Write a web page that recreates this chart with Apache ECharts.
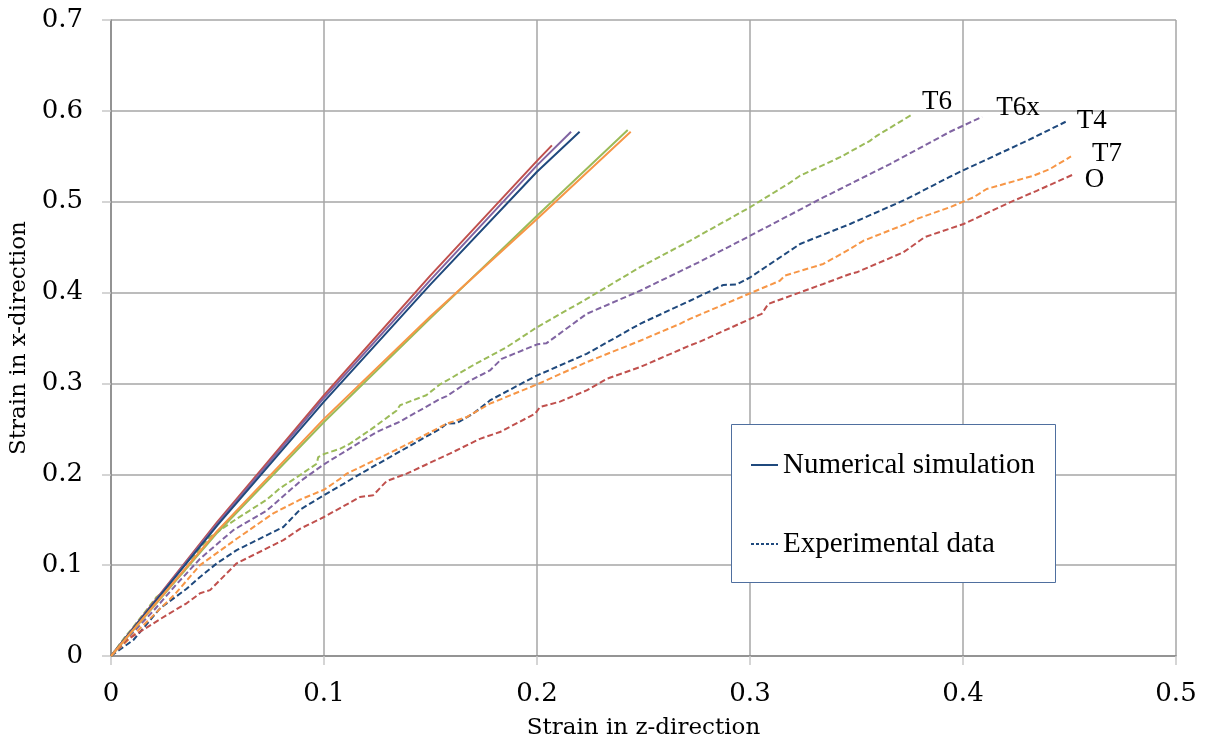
<!DOCTYPE html>
<html lang="en">
<head>
    <title>Strain x vs z</title>
    <meta charset="utf-8" />
    <script src="https://cdn.jsdelivr.net/npm/echarts@6/dist/echarts.min.js"></script>
    <style>
        body { margin: 0; background-color: #ffffff; }
        #main { width: 1210px; height: 751px; }
    </style>
    <script>
        let colorRed = '#c0504d'
        let colorPurple = '#8064a2'
        let colorBlue = '#1f497d'
        let colorGreen = '#9bbb59'
        let colorOrange = '#f79646'
        let colorGrid = '#a6a6a6'
        let colorAxis = '#868686'
        let fontTick = 'DejaVu Serif'
        let fontText = 'Liberation Serif'
    </script>
</head>
<body>
<div id="main"></div>
<script type="text/javascript">
    // numerical simulation, [strain z, strain x]
    const simRed = [[0,0],[0.05,0.148],[0.1,0.287],[0.15,0.419],[0.2,0.545],[0.207,0.562]]
    const simPurple = [[0,0],[0.05,0.146],[0.1,0.284],[0.15,0.414],[0.2,0.540],[0.216,0.577]]
    const simBlue = [[0,0],[0.05,0.144],[0.1,0.280],[0.15,0.409],[0.2,0.533],[0.22,0.577]]
    const simGreen = [[0,0],[0.05,0.136],[0.1,0.2575],[0.15,0.372],[0.2,0.4845],[0.2426,0.579]]
    const simOrange = [[0,0],[0.05,0.138],[0.1,0.261],[0.15,0.374],[0.2,0.481],[0.244,0.577]]

    // experimental data
    const expT6 = [[0,0],[0.0066,0.021],[0.0105,0.032],[0.0214,0.065],[0.0261,0.0733],[0.035,0.095],[0.0418,0.119],
        [0.0465,0.131],[0.059,0.151],[0.0731,0.172],[0.0793,0.1846],[0.0887,0.199],[0.0966,0.2117],[0.0973,0.219],
        [0.1005,0.2227],[0.1075,0.228],[0.1122,0.2337],[0.1224,0.25],[0.134,0.27],[0.1357,0.276],[0.148,0.287],
        [0.1545,0.299],[0.1576,0.303],[0.17,0.32],[0.1858,0.34],[0.2001,0.362],[0.2233,0.393],[0.2484,0.428],
        [0.2718,0.457],[0.3001,0.494],[0.3188,0.521],[0.3235,0.5286],[0.3423,0.549],[0.3563,0.567],[0.3595,0.5725],
        [0.3756,0.5953]]
    const expT6x = [[0,0],[0.01,0.025],[0.02,0.05],[0.03,0.077],[0.0418,0.107],[0.0574,0.1385],[0.0731,0.16],
        [0.0887,0.192],[0.1,0.211],[0.1247,0.2465],[0.1357,0.258],[0.1545,0.283],[0.1576,0.286],[0.1685,0.303],
        [0.1779,0.3143],[0.1834,0.327],[0.2001,0.343],[0.2045,0.3443],[0.2233,0.3766],[0.2484,0.402],[0.2765,0.434],
        [0.3001,0.4626],[0.3344,0.5047],[0.3657,0.5414],[0.3939,0.577],[0.409,0.5934]]
    const expT4 = [[0,0],[0.0105,0.0176],[0.023,0.0524],[0.0355,0.074],[0.0418,0.087],[0.0496,0.1018],[0.059,0.1165],
        [0.0809,0.142],[0.0887,0.161],[0.1,0.177],[0.12,0.2044],[0.1435,0.2355],[0.1545,0.25],[0.1576,0.2557],
        [0.1623,0.2564],[0.17,0.2667],[0.1779,0.2813],[0.1952,0.303],[0.2001,0.3088],[0.2233,0.3326],[0.2484,0.3656],
        [0.2718,0.391],[0.2875,0.4084],[0.2937,0.4088],[0.3001,0.4168],[0.3235,0.4535],[0.347,0.4755],[0.3736,0.503],
        [0.3939,0.5275],[0.4003,0.5348],[0.43,0.567],[0.4482,0.588]]
    const expT7 = [[0,0],[0.01,0.022],[0.02,0.045],[0.03,0.068],[0.0418,0.1],[0.059,0.129],[0.0762,0.157],
        [0.0887,0.172],[0.1,0.183],[0.1075,0.195],[0.1107,0.2007],[0.1357,0.229],[0.1576,0.2557],[0.167,0.263],
        [0.1779,0.2777],[0.2001,0.299],[0.2233,0.3234],[0.2484,0.347],[0.2671,0.3656],[0.2718,0.371],[0.3001,0.3993],
        [0.314,0.413],[0.3164,0.4187],[0.3344,0.4315],[0.347,0.448],[0.3532,0.457],[0.3751,0.4773],[0.3783,0.481],
        [0.3939,0.494],[0.4003,0.5003],[0.4048,0.5047],[0.4111,0.514],[0.433,0.5286],[0.4408,0.536],[0.4507,0.5498]]
    const expO = [[0,0],[0.0074,0.0176],[0.0261,0.045],[0.0355,0.058],[0.0418,0.069],[0.0465,0.0725],[0.059,0.102],
        [0.0809,0.1275],[0.0887,0.14],[0.1,0.153],[0.1169,0.175],[0.1231,0.177],[0.1294,0.1925],[0.1388,0.2007],
        [0.159,0.2227],[0.1732,0.239],[0.1826,0.2465],[0.1991,0.2667],[0.2014,0.274],[0.2108,0.28],[0.2233,0.2923],
        [0.2327,0.305],[0.2484,0.318],[0.2718,0.3418],[0.2765,0.346],[0.3001,0.371],[0.3055,0.3766],[0.3086,0.3875],
        [0.3344,0.4095],[0.347,0.4205],[0.3501,0.4223],[0.372,0.4443],[0.382,0.461],[0.4003,0.4755],[0.422,0.4993],
        [0.4346,0.512],[0.4515,0.5297]]

    const expNames = ['T6', 'T6x', 'T4', 'T7', 'O']
    const xTicks = [0, 0.1, 0.2, 0.3, 0.4, 0.5]
    const yTicks = [0, 0.1, 0.2, 0.3, 0.4, 0.5, 0.6, 0.7]

    const fmtTick = (v) => v === 0 ? '0' : v.toFixed(1)

    const simLine = (data, color) => ({
        type: 'line',
        data: data,
        symbol: 'none',
        silent: true,
        z: 3,
        lineStyle: { color: color, width: 2 },
    })

    const expLine = (data, color, name, offset) => ({
        type: 'line',
        data: data,
        symbol: 'none',
        silent: true,
        z: 2,
        lineStyle: { color: color, width: 2, type: [6, 3] },
        endLabel: {
            show: true,
            formatter: name,
            distance: 0,
            offset: offset,
            fontFamily: fontText,
            fontSize: 27,
            color: '#000',
        },
    })

    const legendBox = (name, top) => ({
        data: [name],
        left: 750,
        top: top,
        z: 6,
        itemWidth: 27,
        itemHeight: 14,
        itemGap: 0,
        padding: 0,
        itemStyle: { opacity: 0 },
        textStyle: { fontFamily: fontText, fontSize: 29, color: '#000', lineHeight: 30 },
    })

    let myChart = echarts.init(document.getElementById('main'), null, { renderer: 'canvas' })

    myChart.setOption({
        animation: false,
        grid: {
            left: 111,
            right: 34,
            top: 20,
            bottom: 95,
            outerBoundsMode: 'none',
        },
        legend: [
            legendBox('Numerical simulation', 450),
            legendBox('Experimental data', 529),
        ],
        graphic: [
            {
                type: 'rect',
                left: 731,
                top: 424,
                z: 5,
                shape: { width: 324, height: 158 },
                style: { fill: '#fff', stroke: '#4f6f9f', lineWidth: 1 },
            },
        ],
        xAxis: {
            type: 'value',
            min: xTicks[0],
            max: xTicks[xTicks.length - 1],
            interval: 0.1,
            name: 'Strain in z-direction',
            nameLocation: 'middle',
            nameGap: 61,
            nameTextStyle: { fontFamily: fontTick, fontSize: 23, color: '#000' },
            axisLine: { lineStyle: { color: colorAxis, width: 1.5 } },
            axisTick: { show: true, inside: false, length: 9, lineStyle: { color: '#c8c8c8', width: 1.5 } },
            axisLabel: { formatter: fmtTick, margin: 25, fontFamily: fontTick, fontSize: 26, color: '#000' },
            splitLine: { show: true, lineStyle: { color: colorGrid, width: 1.5 } },
        },
        yAxis: {
            type: 'value',
            min: yTicks[0],
            max: yTicks[yTicks.length - 1],
            interval: 0.1,
            name: 'Strain in x-direction',
            nameLocation: 'middle',
            nameRotate: 90,
            nameGap: 74,
            nameTextStyle: { fontFamily: fontTick, fontSize: 23, color: '#000' },
            axisLine: { show: true, lineStyle: { color: colorAxis, width: 1.5 } },
            axisTick: { show: true, inside: false, length: 9, lineStyle: { color: '#c8c8c8', width: 1.5 } },
            axisLabel: { formatter: fmtTick, margin: 28, fontFamily: fontTick, fontSize: 26, color: '#000' },
            splitLine: { show: true, lineStyle: { color: colorGrid, width: 1.5 } },
        },
        series: [
            simLine(simRed, colorRed),
            simLine(simPurple, colorPurple),
            simLine(simBlue, colorBlue),
            simLine(simGreen, colorGreen),
            simLine(simOrange, colorOrange),
            expLine(expT6, colorGreen, expNames[0], [11, -13]),
            expLine(expT6x, colorPurple, expNames[1], [14, -9]),
            expLine(expT4, colorBlue, expNames[2], [11, -1]),
            expLine(expT7, colorOrange, expNames[3], [21, -3]),
            expLine(expO, colorRed, expNames[4], [12, 5]),
            {
                name: 'Numerical simulation',
                type: 'line',
                data: [],
                symbol: 'none',
                itemStyle: { color: colorBlue },
                lineStyle: { color: colorBlue, width: 1.5 },
            },
            {
                name: 'Experimental data',
                type: 'line',
                data: [],
                symbol: 'none',
                itemStyle: { color: colorBlue },
                lineStyle: { color: colorBlue, width: 1.5, type: [3, 2] },
            },
        ],
    })
</script>
</body>
</html>
